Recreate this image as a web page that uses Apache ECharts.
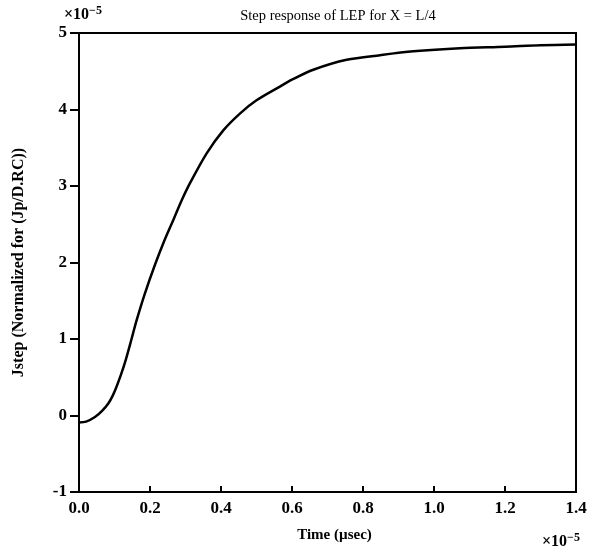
<!DOCTYPE html>
<html><head><meta charset="utf-8">
<script src="https://cdn.jsdelivr.net/npm/echarts@6/dist/echarts.min.js"></script>
<style>html,body{margin:0;padding:0;background:#fff}#c{width:596px;height:556px}</style>
</head><body><div id="c"></div>
<script>
const timeVals = [0, 0.02, 0.045, 0.065, 0.083, 0.095, 0.106, 0.118, 0.13, 0.148, 0.162, 0.186, 0.214, 0.24, 0.266, 0.29, 0.313, 0.36, 0.407, 0.454, 0.5, 0.566, 0.6, 0.66, 0.754, 0.848, 0.942, 1.073, 1.2, 1.3, 1.4];
const jstepVals = [-0.09, -0.08, -0.02, 0.06, 0.16, 0.26, 0.38, 0.53, 0.7, 1.0, 1.24, 1.6, 1.97, 2.28, 2.56, 2.82, 3.04, 3.43, 3.73, 3.95, 4.12, 4.3, 4.39, 4.52, 4.65, 4.71, 4.76, 4.80, 4.82, 4.84, 4.85];
const xTicks = [0, 0.2, 0.4, 0.6, 0.8, 1.0, 1.2, 1.4];
const yTicks = [-1, 0, 1, 2, 3, 4, 5];
const titleText = 'Step response of LEP for X = L/4';
const xName = 'Time (\u00b5sec)';
const yName = 'Jstep (Normalized for (Jp/D.RC))';

const font = 'Liberation Serif';
const chart = echarts.init(document.getElementById('c'));
const expRich = {
  a: {fontFamily: font, fontSize: 16, fontWeight: 'bold', fill: '#000'},
  s: {fontFamily: font, fontSize: 12, fontWeight: 'bold', fill: '#000', verticalAlign: 'top', padding: [0,0,8,0]}
};
chart.setOption({
  animation: false,
  backgroundColor: '#fff',
  title: {text: titleText, left: 333, textAlign: 'center', top: 4,
    textStyle: {fontFamily: font, fontSize: 14.5, fontWeight: 'normal', color: '#000'}},
  grid: {left: 79, right: 20, top: 33, bottom: 64, show: true, borderColor: '#000', borderWidth: 2, backgroundColor: 'transparent'},
  xAxis: {type: 'value', min: 0, max: 1.4, interval: 0.2,
    name: xName, nameLocation: 'middle', nameGap: 36,
    nameTextStyle: {fontFamily: font, fontSize: 15, fontWeight: 'bold', color: '#000', padding: [0, 0, 0, 14]},
    axisLine: {show: true, onZero: false, lineStyle: {color: '#000', width: 2}},
    axisTick: {show: true, inside: true, length: 6, lineStyle: {color: '#000', width: 2}},
    axisLabel: {fontFamily: font, fontSize: 17, fontWeight: 'bold', color: '#000', margin: 8,
      formatter: v => xTicks.some(t => Math.abs(t - v) < 1e-9) ? v.toFixed(1) : ''},
    splitLine: {show: false}},
  yAxis: {type: 'value', min: -1, max: 5, interval: 1,
    name: yName, nameLocation: 'middle', nameGap: 52, nameRotate: 90,
    nameTextStyle: {fontFamily: font, fontSize: 16, fontWeight: 'bold', color: '#000'},
    axisLine: {show: true, onZero: false, lineStyle: {color: '#000', width: 2}},
    axisTick: {show: true, inside: false, length: 9, lineStyle: {color: '#000', width: 2}},
    axisLabel: {fontFamily: font, fontSize: 17, fontWeight: 'bold', color: '#000', margin: 12,
      formatter: v => yTicks.includes(v) ? String(v) : ''},
    splitLine: {show: false}},
  graphic: [
    {type: 'text', left: 64, top: 5, style: {text: '{a|\u00d710}{s|\u2212}{s|5}', rich: expRich}},
    {type: 'text', left: 542, top: 532, style: {text: '{a|\u00d710}{s|\u2212}{s|5}', rich: expRich}}
  ],
  series: [{type: 'line', data: timeVals.map((t, i) => [t, jstepVals[i]]),
    smooth: 0.3, showSymbol: false, lineStyle: {color: '#000', width: 2.5}}]
});
</script></body></html>
